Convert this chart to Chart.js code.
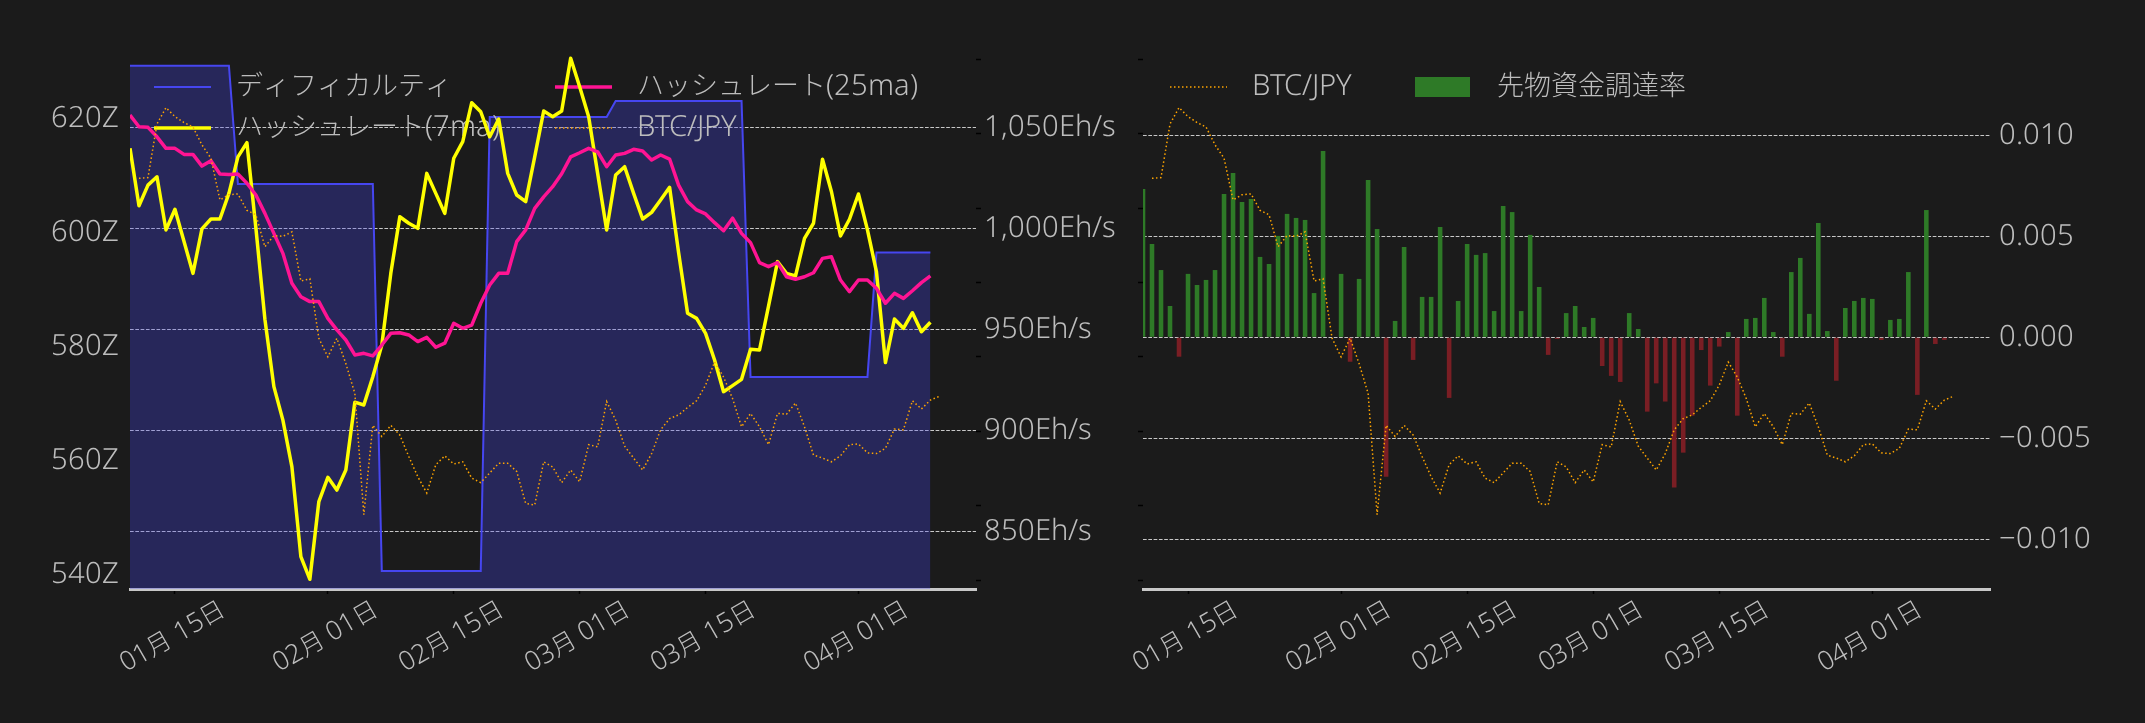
<!DOCTYPE html>
<html lang="ja">
<head>
<meta charset="utf-8">
<title>ディフィカルティ・ハッシュレート / 先物資金調達率</title>
<script src="https://cdn.jsdelivr.net/npm/chart.js@4.4.1/dist/chart.umd.min.js"></script>
<style>
  @font-face {
    font-family: 'RefLatin';
    src: local('Noto Sans Light'), local('NotoSans-Light'), local('Noto Sans'), local('Noto Sans Regular'), local('NotoSans-Regular');
    unicode-range: U+0000-024F, U+2010-2027, U+2212;
    size-adjust: 108%;
  }
  html, body { margin: 0; padding: 0; background: #1b1b1b; overflow: hidden; }
  #left { position: absolute; left: 0; top: 0; }
  #right { position: absolute; left: 1100px; top: 0; }
</style>
</head>
<body>
<canvas id="left" width="1140" height="723"></canvas>
<canvas id="right" width="1045" height="723"></canvas>
<script>
// daily dates (2025)
const dates = [
  '01-10','01-11','01-12','01-13','01-14','01-15','01-16','01-17','01-18','01-19','01-20',
  '01-21','01-22','01-23','01-24','01-25','01-26','01-27','01-28','01-29','01-30','01-31',
  '02-01','02-02','02-03','02-04','02-05','02-06','02-07','02-08','02-09','02-10',
  '02-11','02-12','02-13','02-14','02-15','02-16','02-17','02-18','02-19','02-20',
  '02-21','02-22','02-23','02-24','02-25','02-26','02-27','02-28',
  '03-01','03-02','03-03','03-04','03-05','03-06','03-07','03-08','03-09','03-10',
  '03-11','03-12','03-13','03-14','03-15','03-16','03-17','03-18','03-19','03-20',
  '03-21','03-22','03-23','03-24','03-25','03-26','03-27','03-28','03-29','03-30','03-31',
  '04-01','04-02','04-03','04-04','04-05','04-06','04-07','04-08','04-09','04-10'
];

// difficulty (Z)
const difficulty = [
  629.2, 629.2, 629.2, 629.2, 629.2, 629.2, 629.2, 629.2, 629.2, 629.2, 629.2, 629.2,
  608.5, 608.5, 608.5, 608.5, 608.5, 608.5, 608.5, 608.5, 608.5, 608.5, 608.5, 608.5, 608.5, 608.5, 608.5, 608.5,
  540.7, 540.7, 540.7, 540.7, 540.7, 540.7, 540.7, 540.7, 540.7, 540.7, 540.7, 540.7,
  620.2, 620.2, 620.2, 620.2, 620.2, 620.2, 620.2, 620.2, 620.2, 620.2, 620.2, 620.2, 620.2, 620.2,
  623.0, 623.0, 623.0, 623.0, 623.0, 623.0, 623.0, 623.0, 623.0, 623.0, 623.0, 623.0, 623.0, 623.0, 623.0,
  574.7, 574.7, 574.7, 574.7, 574.7, 574.7, 574.7, 574.7, 574.7, 574.7, 574.7, 574.7, 574.7, 574.7,
  596.5, 596.5, 596.5, 596.5, 596.5, 596.5, 596.5,
  null
];

// hash rate 7 day MA (Eh/s)
const hash7 = [
  1039.6, 1011.2, 1021.4, 1025.5, 999.2, 1009.4, 993.6, 977.7, 999.7, 1004.6,
  1004.6, 1017.3, 1035.4, 1042.4, 1000, 955, 921.6, 905, 882, 837.4,
  826.2, 864.7, 876.7, 870.4, 880.3, 913.9, 912.5, 926.5, 942.2, 977.7,
  1005.7, 1002.5, 1000, 1027.2, 1017.3, 1007.4, 1034.7, 1042.9, 1062.2, 1057.7,
  1045.3, 1054.1, 1027.2, 1016.5, 1013.2, 1035.4, 1058.1, 1055.2, 1058.1, 1084.2,
  1070.1, 1055.2, 1027.2, 999.2, 1026.4, 1030.5, 1017.3, 1004.6, 1007.9, 1014,
  1020.3, 988, 957.9, 955.4, 948, 934.8, 919.1, 922.1, 925.2, 940.1,
  939.8, 961.5, 983.5, 977.7, 976.4, 995, 1002.5, 1034.2, 1018.1, 996.2,
  1004.5, 1017, 999.2, 978.5, 933.5, 955.1, 950.5, 958.2, 948.8, 953.5,
  null
];

// hash rate 25 day MA (Eh/s)
const hash25 = [
  1056.1, 1050.3, 1050, 1045.3, 1039.6, 1039.6, 1036.6, 1036.6, 1030.8, 1033.5,
  1026.9, 1026.7, 1026.9, 1022.3, 1016.5, 1007.4, 997.5, 987.6, 972.8, 966.1,
  963.7, 963.7, 955.4, 949.7, 944.7, 937.3, 938.1, 936.8, 942.2, 948,
  948.3, 947.2, 943.9, 946, 941.1, 943.1, 953, 950.5, 952.1, 962.9,
  971.9, 977.7, 977.7, 993.4, 999.2, 1009.9, 1015.6, 1020.6, 1027, 1035.4,
  1037.4, 1039.6, 1037.9, 1030.5, 1036.3, 1037.1, 1039.1, 1038.3, 1033.8, 1036.3,
  1034.3, 1021.4, 1013.2, 1009.1, 1007.1, 1002.8, 998.8, 1005, 997.5, 992.9,
  983, 981, 983, 976, 974.8, 976, 978, 985.1, 985.9, 974.4,
  968.6, 974.4, 974.4, 970.3, 962.9, 967.8, 965.3, 969.1, 973.1, 976.4,
  null
];

// BTC/JPY (million JPY)
const btcJpy = [
  null,
  15.40, 15.41, 16.13, 16.35, 16.23, 16.15, 16.09, 15.85, 15.67, 15.11,
  15.18, 15.19, 14.97, 14.91, 14.48, 14.63, 14.62, 14.68, 14.02, 14.05,
  13.25, 13.00, 13.25, 12.91, 12.51, 10.88, 12.08, 11.93, 12.08, 11.95,
  11.66, 11.39, 11.17, 11.55, 11.67, 11.56, 11.59, 11.37, 11.31, 11.44,
  11.57, 11.57, 11.46, 11.03, 11.01, 11.59, 11.52, 11.31, 11.48, 11.32,
  11.82, 11.79, 12.40, 12.15, 11.80, 11.64, 11.48, 11.70, 12.02, 12.17,
  12.22, 12.32, 12.41, 12.62, 12.93, 12.73, 12.44, 12.06, 12.24, 12.06,
  11.82, 12.24, 12.23, 12.38, 12.06, 11.68, 11.64, 11.59, 11.67, 11.82,
  11.83, 11.71, 11.70, 11.77, 12.03, 12.02, 12.41, 12.30, 12.42, 12.47
];

// futures funding rate
const funding = [
  0.00734, 0.00462, 0.00333, 0.00155, -0.00096, 0.00314, 0.00259, 0.00284, 0.00333, 0.00710,
  0.00814, 0.00670, 0.00685, 0.00398, 0.00363, 0.00502, 0.00611, 0.00591, 0.00581, 0.00219,
  0.00922, 0.00000, 0.00314, -0.00121, 0.00289, 0.00779, 0.00536, -0.00690, 0.00081, 0.00447,
  -0.00112, 0.00200, 0.00200, 0.00546, -0.00300, 0.00180, 0.00462, 0.00408, 0.00417, 0.00130,
  0.00650, 0.00620, 0.00130, 0.00507, 0.00249, -0.00087, -0.00008, 0.00120, 0.00155, 0.00051,
  0.00096, -0.00142, -0.00191, -0.00221, 0.00120, 0.00041, -0.00368, -0.00228, -0.00318, -0.00744,
  -0.00571, -0.00388, -0.00063, -0.00239, -0.00046, 0.00026, -0.00388, 0.00091, 0.00096, 0.00195,
  0.00026, -0.00096, 0.00323, 0.00393, 0.00116, 0.00566, 0.00031, -0.00215, 0.00145, 0.00180,
  0.00195, 0.00190, -0.00013, 0.00086, 0.00091, 0.00323, -0.00285, 0.00630, -0.00033, -0.00013,
  null
];

const tickDates = ['01-15', '02-01', '02-15', '03-01', '03-15', '04-01'];
const tickLabels = ['01月 15日', '02月 01日', '02月 15日', '03月 01日', '03月 15日', '04月 01日'];

const MONTH_START = [0, 31, 59, 90];
function dayOf(mmdd) {
  const [m, d] = mmdd.split('-').map(Number);
  return MONTH_START[m - 1] + d;
}
function pts(arr) {
  return dates.map((d, i) => ({ x: dayOf(d), y: arr[i] }));
}

const FONT = 'RefLatin, "Noto Sans CJK JP", sans-serif';
const FSIZE = 27;
const XSIZE = 24.5;
const FWEIGHT = 300;
const TEXT = '#bdbdbd';
const GRID = '#c8c8c8';
const DASH = [3.7, 1.6];
const BLUE = '#4646f0';
const YELLOW = '#ffff00';
const PINK = '#ff1493';
const ORANGE = '#ffa500';
const GREEN = '#2e7a27';
const RED = '#7a1e24';

// legend drawn inside the plot, like the original
const innerLegend = {
  id: 'innerLegend',
  draw(chart, opts) {
    const { ctx, chartArea } = chart;
    ctx.save();
    ctx.font = FWEIGHT + ' ' + FSIZE + 'px ' + FONT;
    ctx.textBaseline = 'middle';
    opts.items.forEach(it => {
      const ds = chart.data.datasets[it.ds];
      const x = chartArea.left + it.dx;
      const y = chartArea.top + it.dy;
      if (it.box) {
        ctx.fillStyle = it.box;
        ctx.fillRect(x, y - 10, 55, 20);
      } else {
        ctx.beginPath();
        ctx.setLineDash(ds.borderDash || []);
        ctx.strokeStyle = ds.borderColor;
        ctx.lineWidth = ds.borderWidth;
        ctx.moveTo(x, y);
        ctx.lineTo(x + 57, y);
        ctx.stroke();
        ctx.setLineDash([]);
      }
      ctx.fillStyle = TEXT;
      ctx.fillText(ds.label, x + 82, y);
    });
    ctx.restore();
  },
  afterDatasetDraw(chart, args, opts) {
    if (opts.afterIndex === args.index) this.draw(chart, opts);
  },
  afterDatasetsDraw(chart, args, opts) {
    if (opts.afterIndex === undefined) this.draw(chart, opts);
  }
};

function xAxis() {
  return {
    type: 'linear',
    offset: false,
    min: dayOf('01-10'),
    max: dayOf('01-10') + 94.07,
    afterBuildTicks: s => { s.ticks = tickDates.map(t => ({ value: dayOf(t) })); },
    afterFit: s => {
      s.height = 134;
      s.paddingLeft = 0;
      s.paddingRight = 0;
    },
    ticks: {
      autoSkip: false,
      minRotation: 30,
      maxRotation: 30,
      padding: 1,
      labelOffset: 48,
      font: { size: XSIZE },
      callback: (v, i) => tickLabels[i]
    },
    grid: { drawOnChartArea: false, offset: false, color: '#000', tickColor: '#000', tickLength: 5, tickWidth: 1.5 },
    border: { color: '#c8c8c8', width: 3 }
  };
}

function btcAxis(position, width) {
  return {
    position: position,
    weight: 0,
    min: 9.88,
    max: 17.098,
    afterFit: s => { s.width = width; },
    ticks: { stepSize: 1, includeBounds: false, display: false },
    grid: { drawOnChartArea: false, color: '#000', tickColor: '#000', tickLength: 5, tickWidth: 1.5 },
    border: { display: false }
  };
}

const btcStyle = {
  label: 'BTC/JPY',
  borderColor: ORANGE,
  borderWidth: 1.5,
  borderDash: [1.5, 2.5],
  pointRadius: 0,
  fill: false,
  yAxisID: 'yBtc',
  order: 1
};

function drawCharts() {
  Chart.defaults.font.family = FONT;
  Chart.defaults.font.size = FSIZE;
  Chart.defaults.font.weight = FWEIGHT;
  Chart.defaults.color = TEXT;

  new Chart(document.getElementById('left'), {
    type: 'line',
    data: {
      datasets: [
        {
          label: 'ディフィカルティ',
          data: pts(difficulty),
          yAxisID: 'yDiff',
          borderColor: BLUE,
          borderWidth: 2,
          backgroundColor: 'rgba(70, 70, 240, 0.3)',
          fill: 'start',
          pointRadius: 0,
          order: 4
        },
        {
          label: 'ハッシュレート(7ma)',
          data: pts(hash7),
          yAxisID: 'yHash',
          borderColor: YELLOW,
          borderWidth: 3.5,
          borderJoinStyle: 'round',
          pointRadius: 0,
          order: 3
        },
        {
          label: 'ハッシュレート(25ma)',
          data: pts(hash25),
          yAxisID: 'yHash',
          borderColor: PINK,
          borderWidth: 3.5,
          borderJoinStyle: 'round',
          pointRadius: 0,
          order: 2
        },
        Object.assign({ data: pts(btcJpy) }, btcStyle)
      ]
    },
    options: {
      responsive: false,
      animation: false,
      devicePixelRatio: 1,
      layout: { padding: { top: 52, left: 0, right: 0, bottom: 0 } },
      plugins: {
        legend: { display: false },
        tooltip: { enabled: false },
        innerLegend: {
          afterIndex: 0,
          items: [
            { ds: 0, dx: 24, dy: 35 },
            { ds: 1, dx: 24, dy: 76 },
            { ds: 2, dx: 425, dy: 35 },
            { ds: 3, dx: 425, dy: 76 }
          ]
        }
      },
      scales: {
        x: xAxis(),
        yDiff: {
          position: 'left',
          min: 537.55,
          max: 631.6,
          afterFit: s => { s.width = 130; },
          ticks: { stepSize: 20, includeBounds: false, padding: 11, callback: v => v + 'Z' },
          grid: { display: false, drawTicks: false },
          border: { display: false }
        },
        yBtc: btcAxis('right', 0),
        yHash: {
          position: 'right',
          weight: 1,
          min: 821.4,
          max: 1087.3,
          afterFit: s => { s.width = 164; },
          ticks: { stepSize: 50, includeBounds: false, padding: 8, callback: v => v.toLocaleString('en-US') + 'Eh/s' },
          grid: { color: GRID, lineWidth: 1, drawTicks: false },
          border: { display: false, dash: DASH }
        }
      }
    },
    plugins: [innerLegend]
  });

  new Chart(document.getElementById('right'), {
    type: 'line',
    data: {
      datasets: [
        Object.assign({ data: pts(btcJpy) }, btcStyle),
        {
          type: 'bar',
          label: '先物資金調達率',
          data: pts(funding),
          yAxisID: 'yFund',
          backgroundColor: c => (c.raw && c.raw.y < 0) ? RED : GREEN,
          barPercentage: 0.51,
          categoryPercentage: 1,
          clip: 0,
          order: 2
        }
      ]
    },
    options: {
      responsive: false,
      animation: false,
      devicePixelRatio: 1,
      layout: { padding: { top: 52, left: 0, right: 0, bottom: 0 } },
      plugins: {
        legend: { display: false },
        tooltip: { enabled: false },
        innerLegend: {
          items: [
            { ds: 0, dx: 27, dy: 35 },
            { ds: 1, dx: 272, dy: 35, box: GREEN }
          ]
        }
      },
      scales: {
        x: xAxis(),
        yBtc: btcAxis('left', 43),
        yFund: {
          position: 'right',
          min: -0.01246,
          max: 0.014124,
          afterFit: s => { s.width = 155; },
          ticks: {
            stepSize: 0.005,
            includeBounds: false,
            padding: 9,
            callback: v => Math.abs(v) < 1e-9 ? '0.000' : (v < 0 ? '\u2212' : '') + Math.abs(v).toFixed(3)
          },
          grid: { color: GRID, lineWidth: 1, drawTicks: false },
          border: { display: false, dash: DASH }
        }
      }
    },
    plugins: [innerLegend]
  });
}

document.fonts.load(FWEIGHT + ' ' + FSIZE + 'px RefLatin', '0123Eh/sZ').then(drawCharts, drawCharts);
</script>
</body>
</html>
